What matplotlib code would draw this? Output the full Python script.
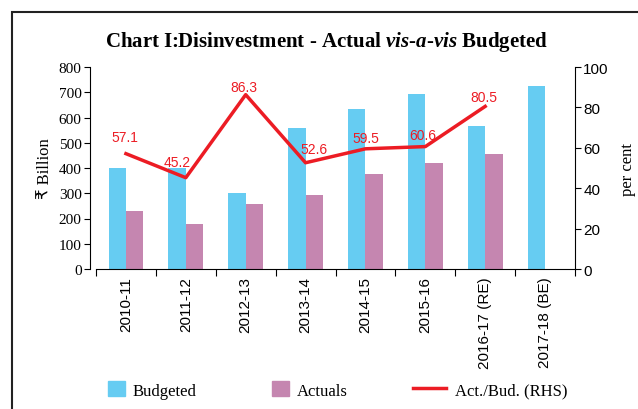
import matplotlib
matplotlib.use('Agg')
import matplotlib.pyplot as plt
from matplotlib.patches import Rectangle
from matplotlib.lines import Line2D
import numpy as np

years = ['2010-11', '2011-12', '2012-13', '2013-14', '2014-15', '2015-16',
         '2016-17 (RE)', '2017-18 (BE)']
budgeted = [400, 400, 300, 558, 635, 695, 565, 725]
actuals = [228, 180, 258, 293, 377, 421, 455, np.nan]
ratio = [57.1, 45.2, 86.3, 52.6, 59.5, 60.6, 80.5]

blue = '#66CCF2'
pink = '#C586B0'
red = '#EC1C24'
sans = ['Liberation Sans', 'DejaVu Sans']

plt.rcParams['font.family'] = ['Liberation Serif', 'DejaVu Sans']
plt.rcParams['mathtext.fontset'] = 'custom'
plt.rcParams['mathtext.it'] = 'Liberation Serif:italic:bold'
plt.rcParams['mathtext.rm'] = 'Liberation Serif:bold'

fig = plt.figure(figsize=(6.38, 4.10), dpi=100)
ax = fig.add_axes([96 / 638, 1 - 270 / 410, (575 - 96) / 638, (270 - 68) / 410])

x = np.arange(len(years))
w = 0.29
ax.bar(x - w / 2, budgeted, w, color=blue)
ax.bar(x + w / 2, actuals, w, color=pink)
ax.set_xlim(-0.5, len(years) - 0.5)
ax.set_ylim(0, 800)
ax.set_yticks(range(0, 801, 100))
ax.set_xticks(np.arange(-0.5, len(years), 1))
ax.set_xticklabels([])
ax.set_xticks(x, minor=True)
ax.set_xticklabels(years, minor=True, rotation=90, fontsize=11, family=sans)
ax.tick_params(axis='x', which='minor', length=0, pad=5)
ax.tick_params(axis='x', which='major', length=5, direction='out')
ax.tick_params(axis='y', labelsize=11, length=4, pad=2)
for lab in ax.get_yticklabels():
    lab.set_family(sans)
ax.set_ylabel('₹ Billion', fontsize=12, labelpad=4)
ax.spines['left'].set_position(('outward', 4.3))
for s in ['top', 'right']:
    ax.spines[s].set_visible(False)

ax2 = ax.twinx()
ax2.plot(x[:len(ratio)], ratio, color=red, lw=2.5)
ax2.set_ylim(0, 100)
ax2.set_yticks(range(0, 101, 20))
ax2.tick_params(axis='y', labelsize=11, length=4, pad=2)
for lab in ax2.get_yticklabels():
    lab.set_family(sans)
ax2.set_ylabel('per cent', fontsize=12, labelpad=8)
for s in ['top', 'left', 'bottom']:
    ax2.spines[s].set_visible(False)

# label offsets (points) from each line vertex
offsets = [(-0.7, 9.4), (-6.5, 8.6), (-1.4, 2.9), (5.8, 7.2), (0, 5), (-2.2, 5.8), (-0.7, 3.6)]
for i, (v, off) in enumerate(zip(ratio, offsets)):
    ax2.annotate(f'{v:.1f}', (x[i], v), xytext=off, textcoords='offset points',
                 ha='center', va='baseline', color=red, fontsize=10, family=sans)

fig.text(327 / 638, 1 - 42 / 410,
         'Chart I:Disinvestment - Actual $vis$-$a$-$vis$ Budgeted',
         ha='center', va='center', fontsize=15, fontweight='bold')

# legend, three pieces so the line handle can be longer than the squares
leg_items = [(Rectangle((0, 0), 1, 1, color=blue), 'Budgeted', 108, 1.0),
             (Rectangle((0, 0), 1, 1, color=pink), 'Actuals', 272, 1.0),
             (Line2D([], [], color=red, lw=2.5), 'Act./Bud. (RHS)', 413, 2.0)]
for h, lab, xp, hl in leg_items:
    fig.legend([h], [lab], loc='center left', bbox_to_anchor=(xp / 638, 1 - 391 / 410),
               frameon=False, fontsize=12, handlelength=hl, handleheight=1.0,
               handletextpad=0.5, borderaxespad=0, borderpad=0)

fig.add_artist(Rectangle((12 / 638, -0.1), 1.2, 1 - 13 / 410 + 0.1, transform=fig.transFigure,
                         fill=False, edgecolor='#222222', lw=1.5))

fig.savefig('out.png', dpi=100)
